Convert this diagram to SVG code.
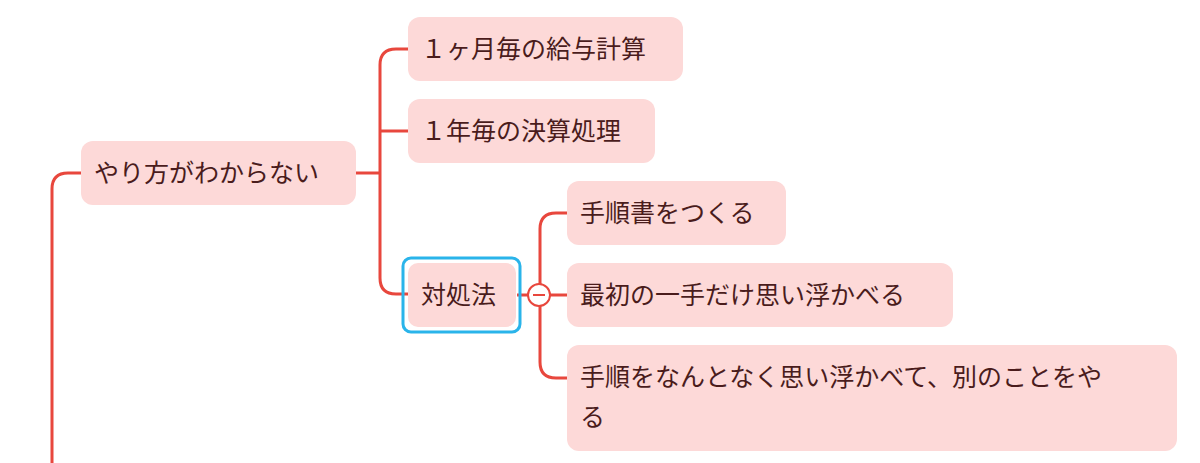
<svg xmlns="http://www.w3.org/2000/svg" width="1200" height="463" viewBox="0 0 1200 463">
<style>
.n{fill:#fdd9d8}
.t{font-family:"Noto Sans CJK JP","Liberation Sans",sans-serif;font-size:25px;fill:#4a1c1c}
.c{fill:none;stroke:#e8473d;stroke-width:3}
</style>
<rect width="1200" height="463" fill="#fff"/>
<g id="connectors">
<path class="c" d="M52,463 V189 Q52,173 68,173 H81"/>
<path class="c" d="M356,173 H380"/>
<path class="c" d="M408,49 H396 Q380,49 380,65 V278 Q380,294 396,294 H408"/>
<path class="c" d="M380,131 Q380,131 408,131"/>
<path class="c" d="M517,295 H528"/>
<path class="c" d="M567,213 H556 Q540,213 540,229 V362 Q540,378 556,378 H567"/>
<path class="c" d="M550,295 H567"/>
<circle cx="539" cy="295" r="11" fill="#fff" stroke="#e8473d" stroke-width="2"/>
<path d="M533,295 H545" stroke="#e8473d" stroke-width="2"/>
</g>
<g id="n1"><rect class="n" x="81" y="141" width="275" height="64" rx="12"/><text class="t" x="94" y="182">やり方がわからない</text></g>
<g id="n2"><rect class="n" x="408" y="17" width="275" height="64" rx="12"/><text class="t" x="421" y="58">１ヶ月毎の給与計算</text></g>
<g id="n3"><rect class="n" x="408" y="99" width="247" height="64" rx="12"/><text class="t" x="421" y="140">１年毎の決算処理</text></g>
<g id="n4"><rect x="403" y="258" width="117" height="74" rx="8" fill="none" stroke="#2ab4ea" stroke-width="3"/><rect class="n" x="408" y="263" width="108" height="64" rx="10"/><text class="t" x="421" y="304">対処法</text></g>
<g id="n5"><rect class="n" x="567" y="181" width="219" height="64" rx="12"/><text class="t" x="580" y="222">手順書をつくる</text></g>
<g id="n6"><rect class="n" x="567" y="263" width="386" height="64" rx="12"/><text class="t" x="580" y="304">最初の一手だけ思い浮かべる</text></g>
<g id="n7"><rect class="n" x="567" y="345" width="610" height="106" rx="12"/><text class="t" x="580" y="386">手順をなんとなく思い浮かべて、別のことをや</text><text class="t" x="580" y="426">る</text></g>
</svg>
